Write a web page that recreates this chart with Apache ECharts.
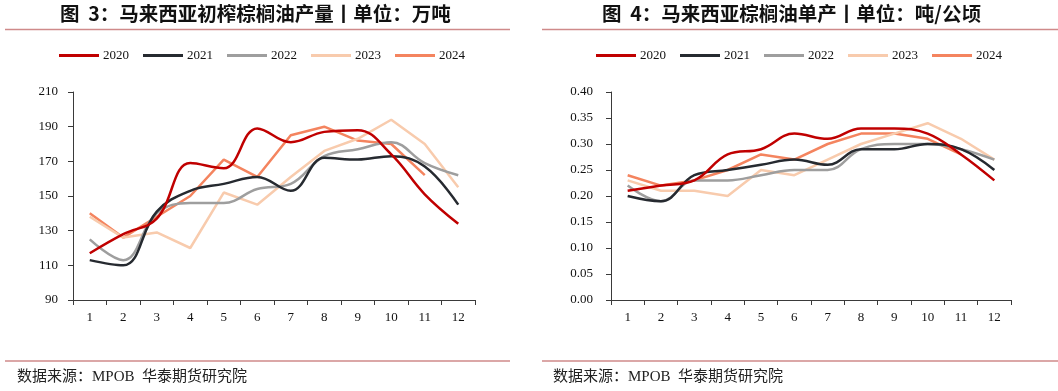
<!DOCTYPE html>
<html>
<head>
<meta charset="utf-8">
<script src="https://cdn.jsdelivr.net/npm/echarts@6/dist/echarts.min.js"></script>
<style>
html,body{margin:0;padding:0;background:#fff;}
#c{width:1058px;height:391px;}
</style>
</head>
<body>
<div id="c"></div>
<script>
const months = ['1','2','3','4','5','6','7','8','9','10','11','12'];
const years = ['2020','2021','2022','2023','2024'];
const colors = ['#C00000','#262A30','#9E9E9E','#F8CBAD','#F4845F'];
const smoothFlags = [true, true, true, false, false];

// 图3：马来西亚初榨棕榈油产量（万吨）
const prod2020 = [117, 128, 137, 169, 166, 189, 181, 187, 188, 174, 151, 134];
const prod2021 = [113, 110, 141, 153, 157, 161, 153, 172, 171, 173, 167, 145];
const prod2022 = [125, 113, 140, 146, 146, 154, 157, 173, 177, 181, 169, 162];
const prod2023 = [138, 126, 129, 120, 152, 145, 161, 176, 183, 194, 180, 155];
const prod2024 = [140, 126, 138, 150, 171, 161, 185, 190, 182, 180, 162];
const prodTicks = {min: 90, max: 210, interval: 20};

// 图4：马来西亚棕榈油单产（吨/公顷）
const yield2020 = [0.21, 0.22, 0.23, 0.28, 0.29, 0.32, 0.31, 0.33, 0.33, 0.32, 0.28, 0.23];
const yield2021 = [0.20, 0.19, 0.24, 0.25, 0.26, 0.27, 0.26, 0.29, 0.29, 0.30, 0.29, 0.25];
const yield2022 = [0.22, 0.19, 0.23, 0.23, 0.24, 0.25, 0.25, 0.29, 0.30, 0.30, 0.29, 0.27];
const yield2023 = [0.23, 0.21, 0.21, 0.20, 0.25, 0.24, 0.27, 0.30, 0.32, 0.34, 0.31, 0.27];
const yield2024 = [0.24, 0.22, 0.23, 0.25, 0.28, 0.27, 0.30, 0.32, 0.32, 0.31, 0.28];
const yieldTicks = {min: 0, max: 0.4, interval: 0.05};

const prodSeries = [prod2020, prod2021, prod2022, prod2023, prod2024];
const yieldSeries = [yield2020, yield2021, yield2022, yield2023, yield2024];

const serif = '"Liberation Serif", "Times New Roman", serif';
const cjk = '"Noto Sans CJK SC", sans-serif';
const footFont = '15px "Liberation Serif", "Noto Sans CJK SC", serif';
const axisColor = '#3a3a3a';
const titleLine = '#CF8A8A';

function xAxisCfg(gridIndex){
  return {
    type: 'category', gridIndex: gridIndex, data: months, boundaryGap: true,
    axisLine: {lineStyle: {color: axisColor, width: 1}},
    axisTick: {show: true, length: 5, lineStyle: {color: axisColor}},
    axisLabel: {color: '#111', fontFamily: serif, fontSize: 13, margin: 11, interval: 0},
    splitLine: {show: false}
  };
}
function yAxisCfg(gridIndex, t, digits, margin){
  return {
    type: 'value', gridIndex: gridIndex, min: t.min, max: t.max, interval: t.interval,
    axisLine: {show: true, lineStyle: {color: axisColor, width: 1}},
    axisTick: {show: true, length: 5, lineStyle: {color: axisColor}},
    axisLabel: {color: '#111', fontFamily: serif, fontSize: 13, margin: margin,
      formatter: v => v.toFixed(digits)},
    splitLine: {show: false}
  };
}
function mkSeries(arrs, xi, yi){
  return arrs.map((d, i) => ({
    name: years[i], type: 'line', xAxisIndex: xi, yAxisIndex: yi, data: d,
    smooth: smoothFlags[i] ? 0.4 : false, symbol: 'none',
    lineStyle: {color: colors[i], width: 2.5}, itemStyle: {color: colors[i]},
    z: 10 - i
  }));
}
function legendCfg(cx){
  return {
    data: years, left: cx, top: 44, icon: 'rect', itemWidth: 40, itemHeight: 3,
    itemGap: 14, selectedMode: false,
    textStyle: {fontFamily: serif, fontSize: 13, color: '#111', padding: [0,0,0,-1]}
  };
}

const chart = echarts.init(document.getElementById('c'), null, {renderer: 'canvas'});
chart.setOption({
  backgroundColor: '#fff',
  animation: false,
  color: colors,
  grid: [
    {left: 73, top: 92, width: 402, height: 208},
    {left: 611, top: 92, width: 400, height: 208}
  ],
  xAxis: [xAxisCfg(0), xAxisCfg(1)],
  yAxis: [yAxisCfg(0, prodTicks, 0, 15), yAxisCfg(1, yieldTicks, 2, 18)],
  legend: [legendCfg(54), legendCfg(591)],
  series: mkSeries(prodSeries, 0, 0).concat(mkSeries(yieldSeries, 1, 1)),
  graphic: [
    {type: 'text', left: 60, top: 4, style: {text: '图  3：马来西亚初榨棕榈油产量丨单位：万吨', font: 'bold 19.5px ' + cjk, fill: '#111'}},
    {type: 'text', left: 602, top: 4, style: {text: '图  4：马来西亚棕榈油单产丨单位：吨/公顷', font: 'bold 19.5px ' + cjk, fill: '#111'}},
    {type: 'line', shape: {x1: 5, y1: 29.5, x2: 510, y2: 29.5}, style: {stroke: titleLine, lineWidth: 1.5}},
    {type: 'line', shape: {x1: 542, y1: 29.5, x2: 1058, y2: 29.5}, style: {stroke: titleLine, lineWidth: 1.5}},
    {type: 'line', shape: {x1: 5, y1: 361, x2: 510, y2: 361}, style: {stroke: titleLine, lineWidth: 1.5}},
    {type: 'line', shape: {x1: 542, y1: 361, x2: 1058, y2: 361}, style: {stroke: titleLine, lineWidth: 1.5}},
    {type: 'text', left: 17, top: 370, style: {text: '数据来源：MPOB  华泰期货研究院', font: footFont, fill: '#222'}},
    {type: 'text', left: 553, top: 370, style: {text: '数据来源：MPOB  华泰期货研究院', font: footFont, fill: '#222'}}
  ]
});
</script>
</body>
</html>
